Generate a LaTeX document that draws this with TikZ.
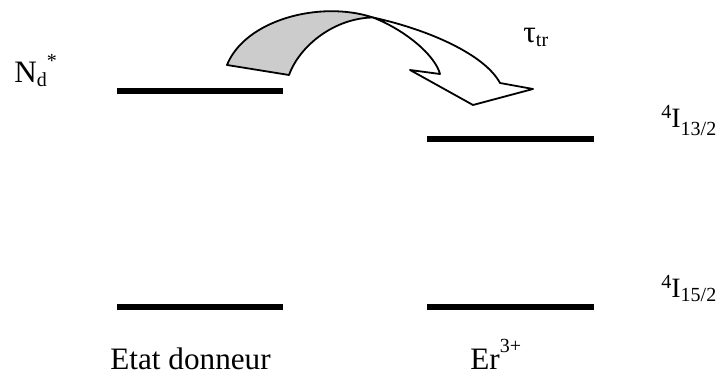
\documentclass[tikz,border=0pt]{standalone}
\usepackage{fontspec}
\setmainfont{Liberation Serif}
\usetikzlibrary{positioning}

\newcommand{\lowtxt}[2]{\raisebox{-#1}{\fontsize{10}{10}\selectfont #2}}
\newcommand{\hightxt}[2]{\raisebox{#1}{\fontsize{10}{10}\selectfont #2}}

\begin{document}
\begin{tikzpicture}[x=0.5pt, y=-0.5pt,
  level/.style={line width=2.6pt},
  lbl/.style={font=\fontsize{15.6}{18}\selectfont, inner sep=0pt, anchor=base west},
  term/.style={font=\fontsize{14}{17}\selectfont, inner sep=0pt, anchor=base west},
  ribbon/.style={draw=black, line width=0.9pt, line join=round},
]
  \useasboundingbox (0,0) rectangle (722,378);

  % levels
  \coordinate (dhi1) at (117,91);
  \coordinate (dhi2) at (283,91);
  \coordinate (dlo1) at (117,307);
  \coordinate (dlo2) at (283,307);
  \coordinate (ehi1) at (427,139);
  \coordinate (ehi2) at (594,139);
  \coordinate (elo1) at (427,307);
  \coordinate (elo2) at (594,307);
  \draw[level] (dhi1) -- (dhi2);
  \draw[level] (dlo1) -- (dlo2);
  \draw[level] (ehi1) -- (ehi2);
  \draw[level] (elo1) -- (elo2);

  % transfer arrow
  \coordinate (twist) at (373,17.5);
  \filldraw[ribbon, fill=gray!40] (227,65) .. controls (245,20) and (320,0) .. (twist)
    .. controls (335,18) and (300,45) .. (289,75) -- cycle;
  \filldraw[ribbon, fill=white] (twist) .. controls (430,30) and (485,55) .. (500,83)
    -- (533,89) -- (473,105) -- (410,70) -- (440,74)
    .. controls (435,55) and (405,30) .. (twist) -- cycle;

  % labels
  \node[lbl] (nd) at (14,83) {N\lowtxt{1.7pt}{d}\hightxt{7.6pt}{*}};
  \node[lbl] (tau) at (523,43) {τ\lowtxt{1.8pt}{tr}};
  \node[term] (i13) at (661,128) {\hightxt{4.7pt}{4}I\lowtxt{4pt}{13/2}};
  \node[term] (i15) at (661,298) {\hightxt{4.7pt}{4}I\lowtxt{1.8pt}{15/2}};
  \node[lbl] (donor) at (110,370) {Etat donneur};
  \node[lbl] (er) at (470,370) {Er\hightxt{8.5pt}{3+}};
\end{tikzpicture}
\end{document}
